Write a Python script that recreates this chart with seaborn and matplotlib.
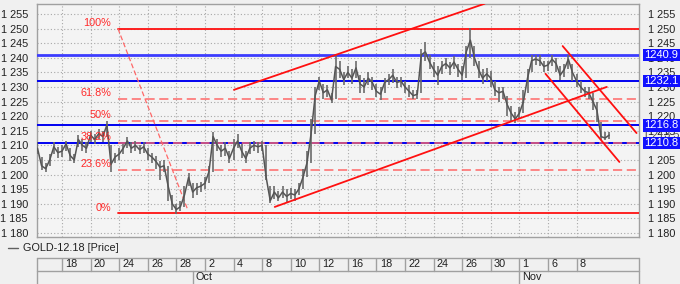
import numpy as np
import pandas as pd
import matplotlib
matplotlib.use("Agg")
import matplotlib.pyplot as plt
from matplotlib.patches import Rectangle
import matplotlib.transforms as mtransforms
import seaborn as sns

# ---------------- data ----------------
close = [1209, 1203, 1202, 1205, 1209.5, 1207.5, 1208, 1210.5, 1206.5, 1205,
         1212, 1210, 1209, 1213.5, 1212, 1214, 1213, 1217, 1203.5, 1206,
         1207, 1209, 1211.5, 1209, 1210, 1208.5, 1209.5, 1207, 1206, 1204.5,
         1202.5, 1203, 1196, 1190, 1188, 1189, 1193, 1199, 1194, 1195.5,
         1196, 1197, 1201, 1213, 1210, 1208, 1209, 1205.5, 1209, 1211.5,
         1208, 1205.5, 1209, 1210, 1209.5, 1210, 1199, 1191, 1194, 1192,
         1194, 1192.5, 1193.5, 1193, 1195, 1199, 1204, 1214, 1227, 1232,
         1228, 1229, 1225.5, 1237, 1236, 1232.5, 1235, 1233, 1236.5, 1231,
         1230, 1233, 1231.5, 1228.5, 1227.5, 1231.5, 1232.5, 1234, 1231.5, 1232,
         1230, 1228.5, 1227, 1227.5, 1241, 1242, 1238.5, 1236, 1234, 1237,
         1238, 1236.5, 1238.5, 1236, 1234, 1242, 1246, 1240, 1236, 1233,
         1234.5, 1233, 1229, 1228, 1228.5, 1224, 1221, 1219, 1221, 1225,
         1233, 1239, 1239.5, 1239, 1237, 1237.5, 1239.5, 1238, 1234, 1236,
         1239.5, 1235, 1232, 1230, 1228.5, 1228, 1225, 1222, 1213, 1212.5,
         1213.5]

high = [1211, 1206, 1204, 1207, 1211, 1209.5, 1210, 1211.5, 1209, 1207,
        1213.5, 1212, 1211, 1215, 1214, 1215.5, 1215, 1218.5, 1210, 1207.5,
        1209, 1210.5, 1213, 1211, 1211.5, 1210, 1211, 1209, 1207.5, 1206.5,
        1204.5, 1205, 1203, 1193, 1190, 1191, 1196, 1200.5, 1197, 1197,
        1197.5, 1199, 1203, 1214.5, 1212, 1210, 1211, 1208, 1212, 1214,
        1210.5, 1208, 1211, 1211.5, 1211, 1211.5, 1210, 1196, 1196, 1194.5,
        1196, 1195, 1195.5, 1195, 1197, 1202, 1208, 1219, 1230, 1233.5,
        1231, 1230.5, 1228, 1241, 1239, 1235, 1237, 1236, 1239, 1234,
        1233, 1235, 1233.5, 1231, 1230, 1233, 1234.5, 1236, 1233.5, 1233.5,
        1232, 1230.5, 1229, 1229, 1243, 1245.5, 1241, 1238.5, 1237, 1239,
        1240, 1238.5, 1240.5, 1238, 1237, 1244, 1250.2, 1244, 1239, 1236,
        1236.5, 1235.5, 1232, 1230, 1230, 1227, 1223.5, 1221.5, 1223, 1229,
        1236, 1241, 1241, 1241, 1239, 1239, 1241, 1240, 1237, 1238,
        1241, 1238, 1234.5, 1232, 1230, 1230, 1228, 1225, 1218, 1214.5,
        1214.5]

low = [1207, 1201.5, 1201, 1203, 1207, 1205.5, 1206, 1208, 1204.5, 1204,
       1209.5, 1208, 1207.5, 1211, 1210.5, 1212, 1211, 1213, 1201, 1204,
       1205, 1207, 1209, 1207.5, 1208, 1207, 1207.5, 1205, 1204, 1202,
       1198, 1201, 1191, 1188, 1186.5, 1187.5, 1189, 1196, 1192, 1193,
       1194, 1195, 1197, 1201, 1208, 1206, 1206.5, 1204, 1205, 1209,
       1205.5, 1204, 1207, 1208, 1207.5, 1208, 1198, 1190.3, 1191.5, 1191,
       1192, 1190.5, 1191.5, 1191, 1193, 1195, 1199, 1204, 1214, 1229,
       1226, 1226.5, 1224.5, 1226, 1233, 1230.5, 1233, 1231, 1233, 1228,
       1228, 1230.5, 1229, 1226.5, 1225.5, 1228, 1230.5, 1231.5, 1229.5, 1230,
       1228, 1226.5, 1226, 1226, 1228, 1239, 1236, 1233.5, 1230.6, 1234.5,
       1236, 1234, 1236, 1233.5, 1232.5, 1233, 1240, 1237, 1233, 1231,
       1232, 1230, 1227, 1225, 1226, 1220, 1218.5, 1217.6, 1219, 1221,
       1228, 1235, 1237.5, 1237, 1235, 1235.5, 1237, 1235, 1232.5, 1233.5,
       1236, 1232, 1230, 1228, 1226.5, 1226, 1222, 1218, 1211.8, 1211.8,
       1212]

day_labels = ["18", "20", "24", "26", "28", "2", "4", "8", "10", "12",
              "16", "18", "22", "24", "26", "30", "1", "6", "8"]
day_ticks = [6, 13, 20, 27, 34, 41, 48, 55, 62, 69,
             76, 83, 90, 97, 104, 111, 118, 125, 132]
month_labels = ["Oct", "Nov"]
month_starts = [38, 118]

levels = [1240.9, 1232.1, 1216.8, 1210.8]
last_price = 1213.5

fib_high = 1250.0
fib_low = 1186.7
fib_ratios = [1.0, 0.618, 0.5, 0.382, 0.236, 0.0]
fib_labels = ["100%", "61.8%", "50%", "38.2%", "23.6%", "0%"]
fib_start = 19.7
fib_diag = [(19.7, 1250.0), (36.8, 1187.9)]

trendlines = [
    [(48.1, 1229.0), (109.5, 1258.5)],
    [(58.1, 1188.9), (139.4, 1230.0)],
    [(128.6, 1244.0), (146.7, 1214.2)],
    [(124.4, 1234.5), (142.5, 1204.3)],
]

y_ticks = list(range(1180, 1260, 5))

# ---------------- style ----------------
sns.set_style("white")
plt.rcParams["font.family"] = ["Liberation Sans", "DejaVu Sans"]

W, H = 680, 284
fig = plt.figure(figsize=(W / 100, H / 100), dpi=100)
fig.patch.set_facecolor("#f0f0f0")

L, R, T, B = 37, 639, 4, 237
ax = fig.add_axes([L / W, 1 - B / H, (R - L) / W, (B - T) / H])
ax.set_facecolor("#f4f4f4")

xmin, xmax = -0.12, 147.3
ymin, ymax = 1178.6, 1258.4
ax.set_xlim(xmin, xmax)
ax.set_ylim(ymin, ymax)

gridc = "#a8a8a8"
for yv in y_ticks:
    ax.axhline(yv, color=gridc, lw=0.8, ls=(0, (1, 2)), zorder=1)
for xv in day_ticks:
    ax.axvline(xv, color=gridc, lw=0.8, ls=(0, (1, 2)), zorder=1)

for s in ax.spines.values():
    s.set_color("#a0a0a0")
    s.set_linewidth(1)

# price (bars + close path)
df = pd.DataFrame({"i": np.arange(len(close)), "close": close,
                   "high": high, "low": low})
ax.vlines(df["i"], df["low"], df["high"], color="#6a6a6a", lw=1.2, zorder=4)
sns.lineplot(data=df, x="i", y="close", ax=ax, color="#555555", lw=1.1,
             zorder=4)

# horizontal blue levels
for k, lv in enumerate(levels):
    ax.axhline(lv, color="#3c3cff" if k == 0 else "#0000f0",
               lw=2.0 if k == 0 else 1.4, zorder=3)

# fibonacci
rng = fib_high - fib_low
for r, lab in zip(fib_ratios, fib_labels):
    yv = fib_low + r * rng
    if r in (0.0, 1.0):
        ax.plot([fib_start, xmax], [yv, yv], color="#ff1010", lw=1.3, zorder=3)
    else:
        ax.plot([fib_start, xmax], [yv, yv], color="#ff6868", lw=1.1,
                ls=(0, (6, 3)), zorder=3)
    ax.text(fib_start - 1.7, yv + 2.0, lab, color="#ff2a2a", fontsize=7.8,
            ha="right", va="center", zorder=6)
ax.plot([p[0] for p in fib_diag], [p[1] for p in fib_diag], color="#ff6868",
        lw=0.9, ls=(0, (4, 2)), zorder=3)

for tl in trendlines:
    ax.plot([p[0] for p in tl], [p[1] for p in tl], color="#ff1010", lw=1.3,
            zorder=5)

# axis labels
ax.set_xticks([])
ax.set_yticks(y_ticks)
ax.set_yticklabels([f"1 {v - 1000:03d}" for v in y_ticks])
ax.tick_params(axis="y", which="both", left=False, right=False,
               labelleft=True, labelright=True, pad=3, labelsize=7.8,
               labelcolor="#202020")
ax.set_xlabel("")
ax.set_ylabel("")

trans = mtransforms.blended_transform_factory(ax.transAxes, ax.transData)
px = 1.0 / (R - L)
ax.text(1 + 4 * px, last_price, "1 213.5", transform=trans, fontsize=7.8,
        color="#505050", ha="left", va="center", zorder=6, clip_on=False)
ppu = (B - T) / (ymax - ymin)
for lv in levels:
    hh = 12.5 / ppu
    ax.add_patch(Rectangle((1 + 4 * px, lv - hh / 2), 40 * px, hh,
                           transform=trans, facecolor="#1010ff",
                           edgecolor="none", clip_on=False, zorder=7))
    ax.text(1 + 5 * px, lv, f"{lv:.1f}", transform=trans, fontsize=8.0,
            color="white", ha="left", va="center", zorder=8, clip_on=False)

# legend row
fig.add_artist(plt.Line2D([8 / W, 18 / W], [1 - 248 / H, 1 - 248 / H],
                          color="#606060", lw=1))
fig.text(23 / W, 1 - 248 / H, "GOLD-12.18 [Price]", fontsize=7.8,
         color="#202020", va="center", ha="left")

# date table
tt, tm = 257.7, 270.5
tax = fig.add_axes([L / W, 0, (R - L) / W, (H - tt) / H])
tax.set_xlim(xmin, xmax)
tax.set_ylim(0, H - tt)
tax.axis("off")
lc = "#a0a0a0"
ytop, ymid = H - tt, H - tm
tax.plot([xmin, xmax], [ytop - 0.5, ytop - 0.5], color=lc, lw=1, clip_on=False)
tax.plot([xmin, xmax], [ymid, ymid], color=lc, lw=1, clip_on=False)
tax.plot([xmin + 0.1, xmin + 0.1], [0, ytop], color=lc, lw=1, clip_on=False)
tax.plot([xmax - 0.1, xmax - 0.1], [0, ytop], color=lc, lw=1, clip_on=False)
for xv, lab in zip(day_ticks, day_labels):
    tax.plot([xv, xv], [ymid, ytop], color=lc, lw=1)
    tax.text(xv + 0.8, (ymid + ytop) / 2, lab, fontsize=7.8, color="#202020",
             ha="left", va="center")
for xv, lab in zip(month_starts, month_labels):
    tax.plot([xv, xv], [0, ymid], color=lc, lw=1)
    tax.text(xv + 0.6, ymid / 2, lab, fontsize=7.8, color="#202020",
             ha="left", va="center")

fig.savefig("out.png", dpi=100, facecolor=fig.get_facecolor())
